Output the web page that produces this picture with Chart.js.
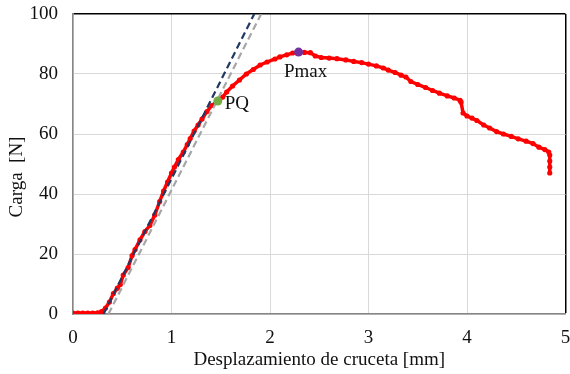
<!DOCTYPE html>
<html>
<head>
<meta charset="utf-8">
<script src="https://cdn.jsdelivr.net/npm/chart.js@4"></script>
<style>
  body { margin: 0; background: #fff; }
  #wrap { width: 570px; height: 374px; }
</style>
</head>
<body>
<div id="wrap"><canvas id="grafico" width="570" height="374"></canvas></div>
<script>
// curva carga-desplazamiento
const desplazamiento = [0, 0.05, 0.1, 0.15, 0.2, 0.25, 0.29, 0.33, 0.37, 0.41, 0.45, 0.48, 0.51, 0.56, 0.6, 0.63, 0.68, 0.73, 0.78, 0.83, 0.88,
  0.92, 0.96, 1.0, 1.03, 1.07, 1.12, 1.16, 1.19, 1.23, 1.27, 1.31, 1.36, 1.41, 1.47, 1.52, 1.56, 1.62, 1.69, 1.76, 1.83, 1.9,
  1.97, 2.05, 2.1, 2.17, 2.23, 2.29, 2.35, 2.41, 2.46, 2.52, 2.6, 2.68, 2.77, 2.85, 2.93, 3.0, 3.08, 3.15, 3.2, 3.27, 3.33,
  3.38, 3.43, 3.5, 3.58, 3.65, 3.72, 3.8, 3.87, 3.93, 3.94, 3.96, 4.0, 4.05, 4.1, 4.17, 4.23, 4.3, 4.37, 4.45, 4.52,
  4.6, 4.67, 4.73, 4.79, 4.83, 4.84, 4.84, 4.84, 4.84];
const carga = [0.3, 0.3, 0.3, 0.3, 0.3, 0.4, 0.8, 2, 4, 6.8, 8.6, 9.8, 13, 15.5, 19.5, 21.5, 24.7, 27.5, 29.5, 33, 37.5,
  41, 44, 47, 49, 51.5, 54, 56.5, 58.5, 61, 63, 65, 67.5, 69.5, 71, 72.3, 74, 76, 78, 80, 81.5, 83,
  84, 85, 85.7, 86.4, 87, 87.3, 87.2, 87.1, 86, 85.5, 85.3, 85.1, 84.7, 84.2, 83.8, 83.3, 82.7, 82, 81.3, 80.5, 79.6,
  79, 77.5, 76.5, 75.5, 74.5, 73.6, 72.7, 72, 71.2, 70.6, 67, 66, 65.3, 64.5, 63, 62, 60.8, 60, 59.2, 58.4,
  57.6, 56.8, 55.6, 54.8, 54, 53, 51, 49, 47];

// rectas de la zona elastica
const rectaX = [0.31, 1.84];
const rectaY = [0, 100];
const recta95X = [0.36, 1.91];
const recta95Y = [0, 100];

// puntos caracteristicos
const pq = { x: 1.47, y: 71, texto: "PQ" };
const pmax = { x: 2.29, y: 87.3, texto: "Pmax" };

const xTicks = [0, 1, 2, 3, 4, 5];
const yTicks = [0, 20, 40, 60, 80, 100];

const toPts = (xs, ys) => xs.map((x, i) => ({ x: x, y: ys[i] }));
const fuente = "'Liberation Serif', 'Times New Roman', serif";

const etiquetas = {
  id: "etiquetas",
  afterDraw(chart) {
    const c = chart.ctx;
    const sx = chart.scales.x, sy = chart.scales.y;
    c.save();
    c.fillStyle = "#111";
    c.font = "19px " + fuente;
    c.textBaseline = "middle";
    c.textAlign = "left";
    c.fillText(pq.texto, sx.getPixelForValue(pq.x) + 7, sy.getPixelForValue(pq.y) + 3);
    c.textAlign = "center";
    c.fillText(pmax.texto, sx.getPixelForValue(pmax.x) + 7, sy.getPixelForValue(pmax.y) + 20);
    // titulo eje y
    c.translate(17, 177);
    c.rotate(-Math.PI / 2);
    c.fillText("Carga  [N]", 0, 0);
    c.restore();
  },
};

new Chart(document.getElementById("grafico"), {
  type: "scatter",
  data: {
    datasets: [
      { data: [pq], pointRadius: 4.5, pointBackgroundColor: "#70AD47", pointBorderWidth: 0 },
      { data: [pmax], pointRadius: 4.5, pointBackgroundColor: "#7030A0", pointBorderWidth: 0 },
      { data: toPts(rectaX, rectaY), showLine: true, borderColor: "#1F3864", borderWidth: 2.2, borderDash: [7, 4], pointRadius: 0 },
      { data: toPts(recta95X, recta95Y), showLine: true, borderColor: "#A6A6A6", borderWidth: 2.2, borderDash: [7, 4], pointRadius: 0 },
      {
        data: toPts(desplazamiento, carga),
        showLine: true,
        borderColor: "#FF0000",
        borderWidth: 3.5,
        pointRadius: 2.6,
        pointBackgroundColor: "#FF0000",
        pointBorderWidth: 0,
      },
    ],
  },
  options: {
    responsive: false,
    animation: false,
    layout: { padding: { top: 14, right: 3, left: 0, bottom: 0 } },
    plugins: { legend: { display: false }, tooltip: { enabled: false } },
    scales: {
      x: {
        type: "linear",
        min: 0,
        max: 5,
        afterBuildTicks: (s) => { s.ticks = xTicks.map((v) => ({ value: v })); },
        afterFit: (s) => { s.height = 60; s.paddingLeft = 0; s.paddingRight = 0; },
        ticks: { font: { family: fuente, size: 19 }, color: "#111", padding: 13, maxRotation: 0 },
        grid: {
          drawTicks: false,
          color: (ctx) => (ctx.tick && ctx.tick.value === 5 ? "#000" : "#D9D9D9"),
          lineWidth: (ctx) => (ctx.tick && ctx.tick.value === 5 ? 1.5 : 1),
        },
        border: { color: "#868686", width: 1.5 },
        title: {
          display: true,
          text: "Desplazamiento de cruceta [mm]",
          font: { family: fuente, size: 19 },
          color: "#111",
          padding: { top: 0, bottom: 3 },
        },
      },
      y: {
        min: 0,
        max: 100,
        afterBuildTicks: (s) => { s.ticks = yTicks.map((v) => ({ value: v })); },
        afterFit: (s) => { s.width = 73; s.paddingTop = 0; s.paddingBottom = 0; },
        ticks: { font: { family: fuente, size: 19 }, color: "#111", padding: 15 },
        grid: {
          drawTicks: false,
          color: (ctx) => (ctx.tick && ctx.tick.value === 100 ? "#000" : "#D9D9D9"),
          lineWidth: (ctx) => (ctx.tick && ctx.tick.value === 100 ? 1.5 : 1),
        },
        border: { color: "#868686", width: 1.5 },
      },
    },
  },
  plugins: [etiquetas],
});
</script>
</body>
</html>
